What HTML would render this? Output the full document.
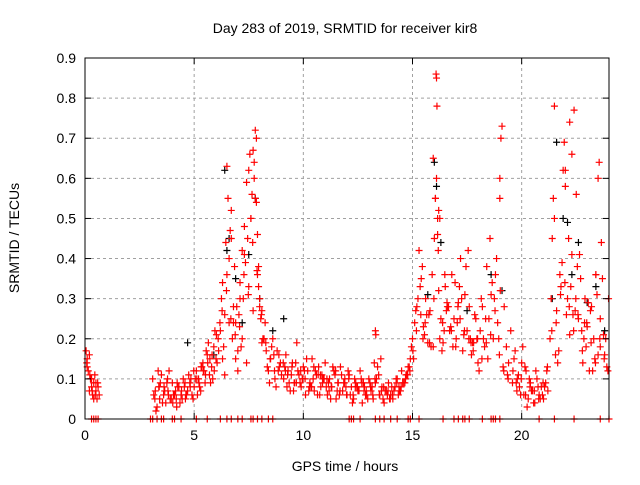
<!DOCTYPE html>
<html><head><meta charset="utf-8"><style>
body{margin:0;background:#fff;width:640px;height:480px;overflow:hidden}
svg text{font-family:"Liberation Sans",sans-serif;font-size:14px;fill:#000}
</style></head><body>
<svg id="chart" width="640" height="480" viewBox="0 0 640 480">
<rect width="640" height="480" fill="#fff"/>
<g id="grid"></g>
<g id="marks"></g>
<rect x="85" y="58" width="524" height="361" fill="none" stroke="#000" stroke-width="1"/>
<g id="axes"></g>
<text x="345" y="33" text-anchor="middle">Day 283 of 2019, SRMTID for receiver kir8</text>
<text x="345" y="471" text-anchor="middle">GPS time / hours</text>
<text x="19" y="238" text-anchor="middle" transform="rotate(-90 19 238)">SRMTID / TECUs</text>
</svg>
<script>
const xTicks=[0,5,10,15,20];
const yTicks=[0,0.1,0.2,0.3,0.4,0.5,0.6,0.7,0.8,0.9];
const redT=[0.05,0.1,0.15,0.2,0.25,0.3,0.35,0.4,0.45,0.5,0.55,0.6,0.65,0.1,0.2,0.3,0.4,0.5,
3.1,3.2,3.3,3.4,3.5,3.6,3.7,3.8,3.9,4.0,4.1,4.2,4.3,4.4,4.5,4.6,4.7,4.8,4.9,3.15,3.35,3.55,3.75,3.95,4.15,4.35,4.55,4.75,4.95,3.25,3.45,3.65,3.85,4.05,4.25,4.45,4.65,4.85,
5.0,5.1,5.2,5.3,5.4,5.5,5.6,5.7,5.8,5.9,6.0,6.1,5.05,5.25,5.45,5.65,5.85,6.05,5.15,5.35,5.55,5.75,5.95,
6.2,6.25,6.3,6.35,6.4,6.45,6.5,6.55,6.6,6.65,6.7,6.75,6.8,6.85,6.9,6.95,7.0,7.05,7.1,7.15,7.2,7.25,7.3,7.35,7.4,7.45,7.5,7.55,7.6,7.65,7.7,7.75,7.8,7.85,7.9,7.95,8.0,8.05,8.1,8.15,
6.3,6.5,6.7,6.9,7.1,7.3,7.5,7.7,7.9,8.1,6.4,6.6,6.8,7.0,7.2,7.4,7.6,7.8,8.0,7.85,7.75,7.95,
8.2,8.3,8.4,8.5,8.6,8.7,8.8,8.9,9.0,8.25,8.45,8.65,8.85,8.35,8.55,8.75,8.95,
9.1,9.2,9.3,9.4,9.5,9.6,9.7,9.8,9.9,10.0,10.1,10.2,10.3,10.4,10.5,10.6,10.7,10.8,10.9,11.0,11.1,11.2,11.3,11.4,11.5,11.6,11.7,11.8,11.9,12.0,12.1,12.2,12.3,12.4,12.5,12.6,12.7,12.8,12.9,13.0,13.1,13.2,13.3,13.4,13.5,13.6,13.7,13.8,13.9,14.0,14.1,14.2,14.3,14.4,14.5,14.6,14.7,14.8,14.9,
9.15,9.35,9.55,9.75,9.95,10.15,10.35,10.55,10.75,10.95,11.15,11.35,11.55,11.75,11.95,12.15,12.35,12.55,12.75,12.95,13.15,13.35,13.55,13.75,13.95,14.15,14.35,14.55,14.75,14.95,
9.25,9.45,9.65,9.85,10.05,10.25,10.45,10.65,10.85,11.05,11.25,11.45,11.65,11.85,12.05,12.25,12.45,12.65,12.85,13.05,13.25,13.45,13.65,13.85,14.05,14.25,14.45,14.65,14.85,13.3,13.32,
15.0,15.1,15.2,15.3,15.4,15.5,15.6,15.7,15.8,15.9,16.0,16.05,16.1,16.15,16.2,16.25,16.3,16.4,16.5,16.6,16.7,16.8,16.9,17.0,17.1,17.2,17.3,17.4,17.5,17.6,17.7,17.8,17.9,18.0,18.1,18.2,18.3,18.4,
15.05,15.25,15.45,15.65,15.85,16.05,16.25,16.45,16.65,16.85,17.05,17.25,17.45,17.65,17.85,18.05,18.25,18.45,15.15,15.35,15.55,15.75,15.95,16.15,16.35,16.55,16.75,16.95,17.15,17.35,17.55,17.75,17.95,18.15,18.35,16.08,16.12,16.1,15.95,16.2,
18.5,18.6,18.7,18.8,18.9,19.0,19.05,19.1,19.2,19.3,19.4,19.5,18.55,18.75,18.95,19.15,19.35,18.65,18.85,19.0,19.02,
19.6,19.7,19.8,19.9,20.0,20.1,20.2,20.3,20.4,20.5,20.6,20.7,20.8,20.9,21.0,21.1,21.2,19.65,19.85,20.05,20.25,20.45,20.65,20.85,21.05,19.75,19.95,20.15,20.35,20.55,20.75,20.95,21.15,
21.3,21.4,21.5,21.6,21.7,21.8,21.9,22.0,22.1,22.2,22.3,22.4,22.5,22.6,22.7,22.8,22.9,23.0,23.1,23.2,23.3,23.4,23.5,23.6,23.7,23.8,23.9,
21.35,21.55,21.75,21.95,22.15,22.35,22.55,22.75,22.95,23.15,23.35,23.55,23.75,23.95,21.45,21.65,21.85,22.05,22.25,22.45,22.65,22.85,23.05,23.25,23.45,23.65,23.85,21.5,22.0,22.2,22.3,23.4,23.5,23.6];
const redV=[0.17,0.15,0.12,0.16,0.1,0.08,0.06,0.09,0.11,0.07,0.05,0.08,0.06,0.13,0.07,0.1,0.05,0.09,
0.1,0.05,0.03,0.08,0.11,0.06,0.04,0.07,0.05,0.09,0.06,0.03,0.08,0.06,0.1,0.05,0.07,0.09,0.06,0.06,0.12,0.04,0.09,0.05,0.07,0.04,0.08,0.11,0.05,0.02,0.09,0.07,0.12,0.06,0.08,0.05,0.06,0.1,
0.08,0.12,0.1,0.07,0.14,0.09,0.16,0.11,0.13,0.18,0.15,0.2,0.1,0.08,0.12,0.19,0.1,0.14,0.06,0.13,0.17,0.09,0.22,
0.22,0.3,0.34,0.18,0.26,0.44,0.63,0.55,0.4,0.47,0.52,0.2,0.24,0.38,0.15,0.28,0.12,0.26,0.34,0.18,0.42,0.3,0.48,0.39,0.59,0.45,0.62,0.66,0.5,0.56,0.67,0.6,0.72,0.54,0.46,0.33,0.3,0.25,0.27,0.2,
0.15,0.36,0.45,0.24,0.3,0.41,0.33,0.27,0.36,0.19,0.11,0.24,0.28,0.17,0.2,0.14,0.5,0.55,0.28,0.7,0.64,0.38,
0.2,0.17,0.12,0.15,0.2,0.1,0.17,0.13,0.11,0.24,0.09,0.16,0.12,0.13,0.18,0.08,0.14,
0.1,0.16,0.12,0.07,0.14,0.09,0.19,0.11,0.08,0.13,0.06,0.12,0.09,0.15,0.07,0.11,0.13,0.08,0.1,0.14,0.06,0.1,0.08,0.12,0.05,0.09,0.13,0.07,0.1,0.06,0.11,0.08,0.05,0.09,0.07,0.12,0.04,0.08,0.06,0.1,0.07,0.05,0.09,0.13,0.06,0.08,0.04,0.07,0.09,0.06,0.05,0.08,0.1,0.07,0.12,0.09,0.11,0.13,0.15,
0.13,0.09,0.07,0.12,0.1,0.15,0.08,0.12,0.06,0.1,0.09,0.13,0.07,0.11,0.08,0.06,0.1,0.07,0.09,0.05,0.08,0.1,0.15,0.07,0.05,0.07,0.06,0.09,0.11,0.18,
0.08,0.11,0.14,0.09,0.12,0.07,0.1,0.06,0.11,0.08,0.05,0.11,0.06,0.09,0.12,0.04,0.08,0.1,0.06,0.09,0.14,0.11,0.05,0.06,0.08,0.1,0.07,0.09,0.13,0.22,0.21,
0.2,0.24,0.28,0.42,0.35,0.23,0.3,0.19,0.27,0.36,0.45,0.55,0.6,0.5,0.32,0.2,0.25,0.19,0.33,0.28,0.22,0.36,0.25,0.2,0.29,0.4,0.17,0.31,0.22,0.28,0.16,0.19,0.25,0.14,0.22,0.28,0.18,0.38,
0.15,0.3,0.38,0.26,0.18,0.55,0.5,0.22,0.28,0.18,0.24,0.3,0.38,0.2,0.26,0.12,0.2,0.15,0.27,0.33,0.21,0.26,0.18,0.46,0.17,0.27,0.23,0.34,0.33,0.21,0.42,0.19,0.2,0.3,0.25,0.86,0.78,0.85,0.65,0.52,
0.25,0.31,0.2,0.36,0.24,0.6,0.7,0.73,0.28,0.18,0.14,0.22,0.45,0.3,0.2,0.13,0.11,0.34,0.4,0.55,0.32,
0.12,0.17,0.1,0.08,0.14,0.06,0.12,0.05,0.09,0.07,0.04,0.1,0.06,0.08,0.05,0.09,0.07,0.15,0.11,0.18,0.03,0.07,0.12,0.05,0.08,0.09,0.06,0.13,0.1,0.04,0.08,0.06,0.12,
0.2,0.45,0.5,0.27,0.17,0.33,0.62,0.58,0.3,0.21,0.41,0.77,0.56,0.25,0.35,0.14,0.3,0.23,0.12,0.28,0.2,0.36,0.16,0.25,0.35,0.16,0.13,
0.3,0.16,0.36,0.69,0.45,0.26,0.38,0.22,0.18,0.27,0.15,0.64,0.21,0.12,0.55,0.14,0.39,0.26,0.33,0.27,0.41,0.2,0.29,0.12,0.31,0.44,0.2,0.78,0.62,0.74,0.66,0.36,0.6,0.18];
const extraT=[0.08,0.22,0.33,0.47,0.58,3.22,3.42,3.62,3.82,4.02,4.22,4.42,4.62,4.82,3.38,3.78,4.18,4.58,4.98,5.12,5.32,5.52,5.72,5.92,6.12,5.22,5.42,5.62,5.82,6.02,6.18,6.28,6.48,6.68,6.88,7.08,7.28,7.48,7.68,7.88,8.08,8.28,8.48,8.68,8.88,9.08,9.28,9.48,9.68,9.88,10.08,10.28,10.48,10.68,10.88,11.08,11.28,11.48,11.68,11.88,12.08,12.28,12.48,12.68,12.88,13.08,13.28,13.48,13.68,13.88,14.08,14.28,14.48,14.68,14.88,9.18,9.58,9.98,10.38,10.78,11.18,11.58,11.98,12.38,12.78,13.18,13.58,13.98,14.38,14.78,15.02,15.18,15.38,15.58,15.78,15.98,16.18,16.38,16.58,16.78,16.98,17.18,17.38,17.58,17.78,17.98,18.18,18.38,18.58,18.78,18.98,19.18,19.38,19.58,19.78,19.98,20.18,20.38,20.58,20.78,20.98,21.18,21.38,21.58,21.78,21.98,22.18,22.38,22.58,22.78,22.98,23.18,23.38,23.58,23.78,23.98,15.48,16.48,17.08,17.68,22.48,22.88,23.28,23.68];
const extraV=[0.14,0.11,0.07,0.06,0.09,0.07,0.05,0.08,0.06,0.04,0.09,0.07,0.06,0.08,0.08,0.1,0.05,0.09,0.12,0.1,0.13,0.11,0.15,0.12,0.17,0.09,0.12,0.14,0.16,0.21,0.24,0.27,0.32,0.25,0.21,0.23,0.36,0.31,0.44,0.37,0.26,0.19,0.15,0.12,0.16,0.14,0.11,0.13,0.09,0.12,0.1,0.08,0.13,0.11,0.09,0.1,0.08,0.12,0.07,0.09,0.1,0.06,0.08,0.09,0.07,0.08,0.1,0.06,0.08,0.07,0.06,0.09,0.08,0.1,0.12,0.12,0.09,0.1,0.08,0.11,0.07,0.09,0.06,0.08,0.07,0.06,0.07,0.05,0.08,0.11,0.17,0.22,0.26,0.24,0.19,0.3,0.42,0.24,0.29,0.22,0.18,0.25,0.22,0.2,0.17,0.2,0.15,0.19,0.21,0.27,0.16,0.12,0.1,0.09,0.07,0.1,0.06,0.08,0.07,0.05,0.09,0.13,0.22,0.24,0.31,0.34,0.28,0.22,0.26,0.17,0.24,0.19,0.14,0.2,0.15,0.3,0.2,0.36,0.28,0.19,0.3,0.24];
const blackT=[6.4,6.6,6.9,7.2,7.5,7.8,8.0,6.5,8.6,9.1,5.9,4.7,16.0,16.1,16.3,15.7,17.5,18.6,19.1,21.6,21.9,22.3,22.6,23.0,23.4,23.8,22.1,21.4];
const blackV=[0.62,0.45,0.35,0.24,0.41,0.55,0.3,0.42,0.22,0.25,0.16,0.19,0.64,0.58,0.44,0.31,0.27,0.36,0.32,0.69,0.5,0.36,0.44,0.29,0.33,0.22,0.49,0.3];
const zeroT=[0.3,0.4,0.5,0.6,3.0,3.1,3.3,3.5,3.6,4.0,4.1,4.4,5.1,5.6,6.2,6.5,6.7,7.0,7.2,7.6,7.7,7.9,8.1,8.4,8.6,12.1,12.2,12.3,12.6,13.3,13.5,13.7,14.0,14.3,14.8,14.9,15.3,16.4,16.9,17.1,17.3,17.4,17.6,18.2,18.6,18.7,18.8,19.0,20.8,21.5,22.4,23.6,24.0];
const X0=85,X1=609,Y0=419,Y1=58;
const xs=t=>X0+(X1-X0)*t/24;
const ys=v=>Y0-(Y0-Y1)*v/0.9;
const NS="http://www.w3.org/2000/svg";
function mk(tag,attrs,parent){const e=document.createElementNS(NS,tag);for(const k in attrs)e.setAttribute(k,attrs[k]);parent.appendChild(e);return e;}
const grid=document.getElementById('grid'),axes=document.getElementById('axes'),marks=document.getElementById('marks');
xTicks.forEach(t=>{const x=xs(t);
if(t>0){const l=mk('line',{x1:x,x2:x,y1:Y0,y2:Y1,stroke:'#a0a0a0','stroke-dasharray':'3,3'},grid);

}
mk('line',{x1:x,x2:x,y1:Y0,y2:Y0-6,stroke:'#000'},axes);mk('line',{x1:x,x2:x,y1:Y1,y2:Y1+6,stroke:'#000'},axes);
const tx=mk('text',{x:x,y:Y0+21,'text-anchor':'middle'},axes);tx.textContent=t;

});
yTicks.forEach(v=>{const y=ys(v);
if(v>0&&v<0.9){const l=mk('line',{x1:X0,x2:X1,y1:y,y2:y,stroke:'#a0a0a0','stroke-dasharray':'3,3'},grid);

}
mk('line',{x1:X0,x2:X0+6,y1:y,y2:y,stroke:'#000'},axes);mk('line',{x1:X1,x2:X1-6,y1:y,y2:y,stroke:'#000'},axes);
const tx=mk('text',{x:X0-9,y:y+5,'text-anchor':'end'},axes);tx.textContent=(v===0?'0':v.toFixed(1));

});
function plus(t,v,c,name){const x=xs(t),y=ys(v);
const p=mk('path',{d:`M${x-3.5},${y}h7M${x},${y-3.5}v7`,stroke:c,'stroke-width':1.2,fill:'none'},marks);

}
blackT.forEach((t,i)=>plus(t,blackV[i],'#000','black-point'));
redT.forEach((t,i)=>plus(t,redV[i],'#f00','red-point'));
extraT.forEach((t,i)=>plus(t,extraV[i],'#f00','red-point'));
zeroT.forEach(t=>plus(t,0,'#f00','zero-point'));
</script>
</body></html>
